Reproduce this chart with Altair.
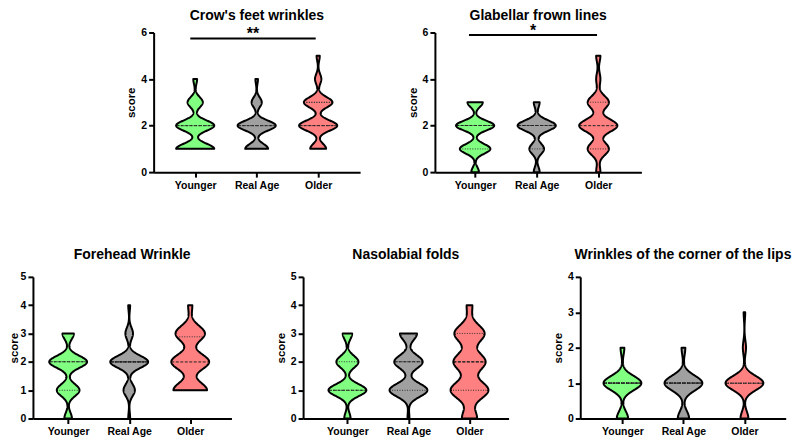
import json
import altair as alt
import pandas as pd

FONT = "Liberation Sans"

PANELS = ["Crow's feet wrinkles", "Glabellar frown lines", "Forehead Wrinkle",
          "Nasolabial folds", "Wrinkles of the corner of the lips"]
GROUPS = ["Younger", "Real Age", "Older"]
COLORS = ["#80FF80", "#A0A0A0", "#FF8080"]
SCORES = [0, 1, 2, 3, 4, 5]

# subjects at each score 0..5 (Younger, Real Age, Older)
crow_counts = [[0, 10, 10, 4, 1, 0], [0, 9, 15, 4, 1, 0], [0, 5, 12, 9, 2, 1]]
glab_counts = [[2, 8, 10, 4, 0, 0], [2, 5, 13, 2, 0, 0], [1, 5, 9, 5, 1, 1]]
fore_counts = [[2, 6, 10, 3, 0, 0], [1, 6, 20, 4, 1, 0], [0, 8, 9, 7, 1, 0]]
naso_counts = [[2, 12, 7, 3, 0, 0], [1, 20, 15, 9, 0, 0], [8, 20, 17, 16, 3, 0]]
lips_counts = [[3, 10, 1, 0, 0, 0], [3, 10, 1, 0, 0, 0], [5, 24, 2, 1, 0, 0]]
COUNTS = [crow_counts, glab_counts, fore_counts, naso_counts, lips_counts]

# kernel bandwidth of each violin
BANDWIDTH = [[0.22, 0.21, 0.22], [0.205, 0.225, 0.27], [0.21, 0.21, 0.27],
             [0.21, 0.23, 0.30], [0.20, 0.21, 0.20]]

MEDIAN = [[2, 2, 2], [2, 2, 2], [2, 2, 2], [1, 2, 2], [1, 1, 1]]
Q1 = [[1, 1, 2], [1, 1, 1], [1, 2, 1], [1, 1, 1], [1, 1, 1]]
Q3 = [[2, 2, 3], [2, 2, 3], [2, 2, 2.88], [2, 2, 3], [1, 1, 1]]

Y_MAX = [6, 6, 5, 5, 4]
Y_TICKS = [[0, 2, 4, 6], [0, 2, 4, 6], [0, 1, 2, 3, 4, 5], [0, 1, 2, 3, 4, 5], [0, 1, 2, 3, 4]]

SIG_PANEL = [0, 1]
SIG_X1 = [0.92, 0.90]
SIG_X2 = [2.96, 2.98]
SIG_Y = [5.74, 5.89]
SIG_TEXT_Y = [5.71, 5.85]
SIG_LABEL = ["**", "*"]

# layout
HALF = 0.31
X_DOMAIN = [[0.324, 3.682], [0.347, 3.70], [0.423, 3.675], [0.274, 3.64], [0.308, 3.677]]
WIDTHS = [207, 207, 199, 206, 206]
HEIGHTS = [140, 140, 142, 142, 142]
TITLE_DY = [-13, -13, -17.7, -17.7, -17.7]

rows = []
for p in range(len(PANELS)):
    for g in range(len(GROUPS)):
        for s, c in zip(SCORES, COUNTS[p][g]):
            rows += [{"panel": p, "group": g, "score": s}] * c
raw = pd.DataFrame(rows)

sig = pd.DataFrame({"panel": SIG_PANEL, "x1": SIG_X1, "x2": SIG_X2, "y": SIG_Y,
                    "ty": SIG_TEXT_Y, "label": SIG_LABEL})
sig["xm"] = (sig["x1"] + sig["x2"]) / 2

titles = pd.DataFrame({"panel": list(range(len(PANELS))), "title": PANELS})

label_expr = "%s[datum.value - 1]" % json.dumps(GROUPS)


def panel(p):
    xscale = alt.Scale(domain=X_DOMAIN[p], nice=False, zero=False)
    yscale = alt.Scale(domain=[0, Y_MAX[p]], nice=False)
    xaxis = alt.Axis(values=[1, 2, 3], labelExpr=label_expr, title=None, labelPadding=3,
                     labelFlush=False, labelOverlap=False)
    yaxis = alt.Axis(values=Y_TICKS[p], title="score", format="d", labelPadding=2,
                     titlePadding=1 if p == 2 else 4, labelFlush=False, labelOverlap=False)
    X = lambda f: alt.X(f, type="quantitative", scale=xscale, axis=xaxis)
    Y = lambda f: alt.Y(f, type="quantitative", scale=yscale, axis=yaxis)

    fills, lines, strokes = [], [], []
    for g in range(3):
        cnt = COUNTS[p][g]
        present = [s for s, c in zip(SCORES, cnt) if c > 0]
        lo, hi = min(present), max(present)
        steps = int(round((hi - lo) * 100)) + 1
        base = (
            alt.Chart(raw)
            .transform_filter(f"datum.panel == {p} && datum.group == {g}")
            .transform_density("score", as_=["value", "density"], bandwidth=BANDWIDTH[p][g],
                               extent=[lo, hi], steps=steps)
            .transform_joinaggregate(dmax="max(density)")
            .transform_calculate(hw=f"datum.density / datum.dmax * {HALF}")
            .transform_calculate(xl=f"{g + 1} - datum.hw", xr=f"{g + 1} + datum.hw")
        )
        enc = dict(y=Y("value"), x=X("xl"), x2=alt.X2("xr"))
        fills.append(base.mark_area(orient="horizontal", color=COLORS[g], strokeWidth=0).encode(**enc))
        strokes.append(base.mark_area(orient="horizontal", fillOpacity=0, stroke="black",
                                      strokeWidth=2, strokeJoin="round").encode(**enc))
        for val, dash, col in [(Q1[p][g], [1, 1.5], "#333333"), (Q3[p][g], [1, 1.5], "#333333"),
                               (MEDIAN[p][g], [3, 1.5], "#222222")]:
            lines.append(
                base.transform_calculate(dd=f"abs(datum.value - {val})")
                .transform_joinaggregate(mind="min(dd)")
                .transform_filter("datum.dd <= datum.mind + 1e-9")
                .mark_rule(strokeDash=dash, strokeWidth=1, color=col)
                .encode(**enc)
            )
    layers = fills + lines + strokes
    if p in SIG_PANEL:
        sp = alt.Chart(sig).transform_filter(f"datum.panel == {p}")
        layers.append(sp.mark_rule(color="black", strokeWidth=2).encode(
            x=X("x1"), x2=alt.X2("x2"), y=Y("y")))
        layers.append(sp.mark_text(font=FONT, fontSize=16, fontWeight="bold", baseline="alphabetic",
                                   color="black").encode(x=X("xm"), y=Y("ty"), text="label:N"))
    layers.append(
        alt.Chart(titles).transform_filter(f"datum.panel == {p}")
        .mark_text(font=FONT, fontSize=14, fontWeight="bold", color="black",
                   baseline="alphabetic", align="center")
        .encode(x=alt.value(WIDTHS[p] / 2), y=alt.value(TITLE_DY[p]), text="title:N")
    )
    return alt.layer(*layers).properties(width=WIDTHS[p], height=HEIGHTS[p])


spacer = alt.Chart(pd.DataFrame({"s": [0]})).mark_point(opacity=0).properties(width=46, height=140)

top = alt.hconcat(spacer, panel(0), panel(1), spacing=75, bounds="flush")
bottom = alt.hconcat(panel(2), panel(3), panel(4), spacing=71.85, bounds="flush")

chart = (
    alt.vconcat(top, bottom, spacing=57, padding=0)
    .configure_view(strokeWidth=0)
    .configure_axis(domainColor="black", domainWidth=2, tickColor="black", tickWidth=2, tickSize=5,
                    labelFont=FONT, labelFontSize=10.5, labelFontWeight="bold", labelColor="black",
                    titleFont=FONT, titleFontSize=11.5, titleFontWeight="bold", titleColor="black",
                    grid=False)
)

chart.save("out.html", embed_options={"renderer": "svg", "actions": False})
